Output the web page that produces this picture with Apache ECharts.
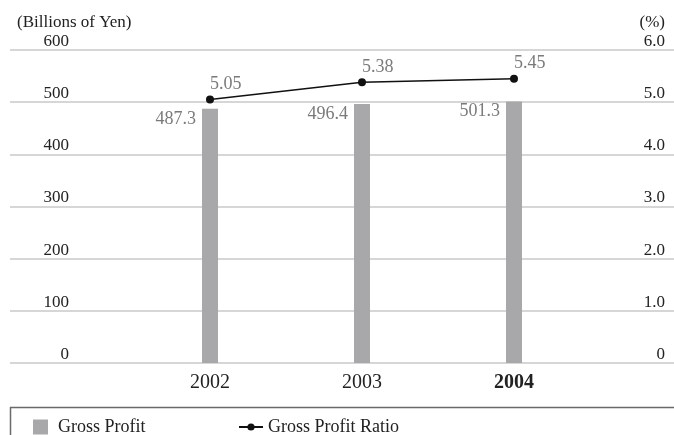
<!DOCTYPE html>
<html>
<head>
<meta charset="utf-8">
<script src="https://cdn.jsdelivr.net/npm/echarts@6/dist/echarts.min.js"></script>
<style>
  html, body { margin: 0; padding: 0; background: #fff; }
  #chart { width: 674px; height: 435px; }
</style>
</head>
<body>
<div id="chart"></div>
<script>
// Gross profit (billions of yen) and gross profit ratio (%) by fiscal year
const years = ['2002', '2003', '2004'];
const grossProfit = [487.3, 496.4, 501.3];
const grossProfitRatio = [5.05, 5.38, 5.45];

const FONT = '"Liberation Serif", "DejaVu Serif", serif';
const TEXT = '#222';
const VALUE_GREY = '#7a7a7a';
const BAR_GREY = '#a8a8aa';
const GRID_GREY = '#c8c8c8';

const chart = echarts.init(document.getElementById('chart'), null, { renderer: 'canvas' });

chart.setOption({
  backgroundColor: '#fff',
  animation: false,
  textStyle: { fontFamily: FONT },
  grid: [
    // full-width grid carrying the scale lines and tick labels
    { left: 10, right: 0, top: 50, height: 313 },
    // narrower grid holding the yearly bars and the ratio line
    { left: 134, width: 456, top: 50, height: 313 }
  ],
  xAxis: [
    { gridIndex: 0, type: 'value', show: false, min: 0, max: 1 },
    {
      gridIndex: 1, type: 'category', data: years, boundaryGap: true,
      axisLine: { show: false }, axisTick: { show: false },
      axisLabel: {
        margin: 10, fontSize: 20, color: TEXT, fontFamily: FONT,
        formatter: (v, i) => i === years.length - 1 ? '{b|' + v + '}' : v,
        rich: { b: { fontSize: 20, fontWeight: 'bold', color: TEXT, fontFamily: FONT } }
      }
    }
  ],
  yAxis: [
    {
      gridIndex: 0, type: 'value', position: 'left', min: 0, max: 600, interval: 100,
      axisLine: { show: false }, axisTick: { show: false },
      splitLine: { show: true, lineStyle: { color: GRID_GREY, width: 1.5 } },
      axisLabel: {
        inside: true, margin: 59, align: 'right', verticalAlign: 'bottom',
        fontSize: 17, color: TEXT, fontFamily: FONT
      },
      name: '(Billions of Yen)', nameLocation: 'end', nameGap: 19,
      nameTextStyle: {
        align: 'left', verticalAlign: 'bottom', padding: [0, 0, 0, 7],
        fontSize: 17, color: TEXT, fontFamily: FONT
      }
    },
    {
      gridIndex: 0, type: 'value', position: 'right', min: 0, max: 6, interval: 1,
      axisLine: { show: false }, axisTick: { show: false }, splitLine: { show: false },
      axisLabel: {
        inside: true, margin: 9, align: 'right', verticalAlign: 'bottom',
        fontSize: 17, color: TEXT, fontFamily: FONT,
        formatter: v => v === 0 ? '0' : v.toFixed(1)
      },
      name: '(%)', nameLocation: 'end', nameGap: 19,
      nameTextStyle: {
        align: 'right', verticalAlign: 'bottom', padding: [0, 9, 0, 0],
        fontSize: 17, color: TEXT, fontFamily: FONT
      }
    },
    { gridIndex: 1, type: 'value', min: 0, max: 600, show: false },
    { gridIndex: 1, type: 'value', min: 0, max: 6, show: false }
  ],
  legend: [
    {
      data: [{ name: 'Gross Profit', icon: 'rect' }], left: 33, top: 418, padding: 0,
      itemWidth: 15, itemHeight: 15,
      textStyle: { fontSize: 18, color: TEXT, fontFamily: FONT, padding: [0, 0, 0, 5] }
    },
    {
      data: ['Gross Profit Ratio'], left: 238, top: 418, padding: 0,
      itemWidth: 24, itemHeight: 9,
      textStyle: { fontSize: 18, color: TEXT, fontFamily: FONT }
    }
  ],
  graphic: [
    {
      type: 'rect', silent: true, z: 0,
      shape: { x: 10.5, y: 407.5, width: 700, height: 60 },
      style: { fill: 'none', stroke: '#6a6a6a', lineWidth: 1.5 }
    }
  ],
  series: [
    {
      name: 'Gross Profit', type: 'bar', xAxisIndex: 1, yAxisIndex: 2,
      data: grossProfit, barWidth: 16,
      itemStyle: { color: BAR_GREY },
      label: {
        show: true, position: [-6, 1], align: 'right', verticalAlign: 'top',
        fontSize: 18, color: VALUE_GREY, fontFamily: FONT,
        formatter: p => p.value.toFixed(1)
      }
    },
    {
      name: 'Gross Profit Ratio', type: 'line', xAxisIndex: 1, yAxisIndex: 3,
      data: grossProfitRatio,
      symbol: 'circle', symbolSize: 8,
      lineStyle: { color: '#111', width: 1.5 },
      itemStyle: { color: '#111' },
      label: {
        show: true, position: 'top', align: 'left', distance: 2,
        fontSize: 18, color: VALUE_GREY, fontFamily: FONT,
        formatter: p => p.value.toFixed(2)
      }
    }
  ]
});
</script>
</body>
</html>
